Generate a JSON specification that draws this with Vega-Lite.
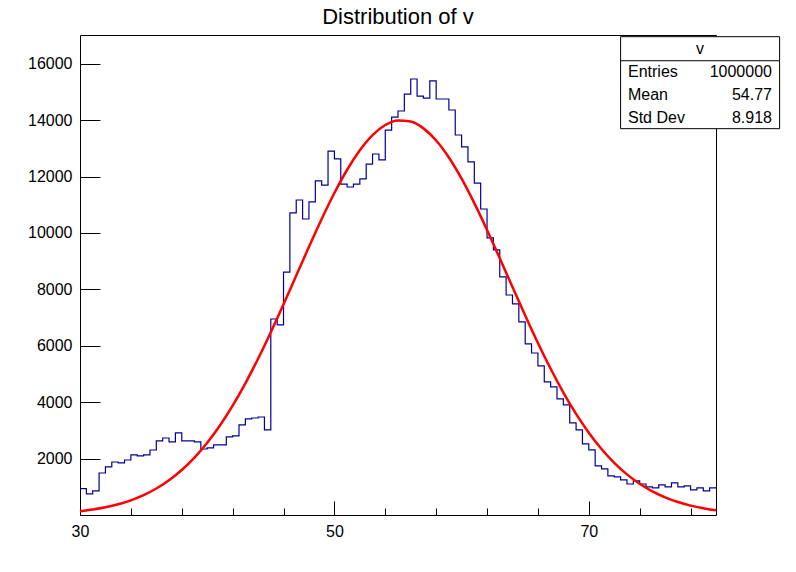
{
  "$schema": "https://vega.github.io/schema/vega-lite/v6.json",
  "width": 636,
  "height": 480,
  "autosize": "none",
  "padding": {"left": 80, "top": 35, "right": 80, "bottom": 57},
  "background": "white",
  "title": {"text": "Distribution of v", "fontSize": 22, "font": "Liberation Sans", "fontWeight": "normal", "anchor": "middle", "offset": 6, "color": "black"},
  "config": {"view": {"stroke": "black", "strokeWidth": 1}, "font": "Liberation Sans"},
  "datasets": {
    "hist": [
      {"v": 30.0, "n": 936}, {"v": 30.5, "n": 750}, {"v": 31.0, "n": 855}, {"v": 31.5, "n": 1490}, {"v": 32.0, "n": 1705},
      {"v": 32.5, "n": 1880}, {"v": 33.0, "n": 1845}, {"v": 33.5, "n": 1950}, {"v": 34.0, "n": 2130}, {"v": 34.5, "n": 2095},
      {"v": 35.0, "n": 2130}, {"v": 35.5, "n": 2305}, {"v": 36.0, "n": 2625}, {"v": 36.5, "n": 2730}, {"v": 37.0, "n": 2590},
      {"v": 37.5, "n": 2910}, {"v": 38.0, "n": 2625}, {"v": 38.5, "n": 2625}, {"v": 39.0, "n": 2590}, {"v": 39.5, "n": 2340},
      {"v": 40.0, "n": 2380}, {"v": 40.5, "n": 2485}, {"v": 41.0, "n": 2485}, {"v": 41.5, "n": 2770}, {"v": 42.0, "n": 2805},
      {"v": 42.5, "n": 3195}, {"v": 43.0, "n": 3405}, {"v": 43.5, "n": 3440}, {"v": 44.0, "n": 3475}, {"v": 44.5, "n": 3015},
      {"v": 45.0, "n": 6950}, {"v": 45.5, "n": 6740}, {"v": 46.0, "n": 8615}, {"v": 46.5, "n": 10710}, {"v": 47.0, "n": 11170},
      {"v": 47.5, "n": 10495}, {"v": 48.0, "n": 11100}, {"v": 48.5, "n": 11845}, {"v": 49.0, "n": 11700}, {"v": 49.5, "n": 12905},
      {"v": 50.0, "n": 12625}, {"v": 50.5, "n": 11735}, {"v": 51.0, "n": 11630}, {"v": 51.5, "n": 11735}, {"v": 52.0, "n": 11915},
      {"v": 52.5, "n": 12445}, {"v": 53.0, "n": 12800}, {"v": 53.5, "n": 12590}, {"v": 54.0, "n": 13650}, {"v": 54.5, "n": 14110},
      {"v": 55.0, "n": 14325}, {"v": 55.5, "n": 14925}, {"v": 56.0, "n": 15460}, {"v": 56.5, "n": 14855}, {"v": 57.0, "n": 14785},
      {"v": 57.5, "n": 15390}, {"v": 58.0, "n": 14750}, {"v": 58.5, "n": 14750}, {"v": 59.0, "n": 14360}, {"v": 59.5, "n": 13475},
      {"v": 60.0, "n": 13050}, {"v": 60.5, "n": 12520}, {"v": 61.0, "n": 11770}, {"v": 61.5, "n": 10850}, {"v": 62.0, "n": 9825},
      {"v": 62.5, "n": 9400}, {"v": 63.0, "n": 8440}, {"v": 63.5, "n": 7800}, {"v": 64.0, "n": 7485}, {"v": 64.5, "n": 6845},
      {"v": 65.0, "n": 6065}, {"v": 65.5, "n": 5745}, {"v": 66.0, "n": 5285}, {"v": 66.5, "n": 4720}, {"v": 67.0, "n": 4540},
      {"v": 67.5, "n": 4115}, {"v": 68.0, "n": 3905}, {"v": 68.5, "n": 3265}, {"v": 69.0, "n": 3015}, {"v": 69.5, "n": 2520},
      {"v": 70.0, "n": 2310}, {"v": 70.5, "n": 1740}, {"v": 71.0, "n": 1635}, {"v": 71.5, "n": 1385}, {"v": 72.0, "n": 1350},
      {"v": 72.5, "n": 1245}, {"v": 73.0, "n": 1100}, {"v": 73.5, "n": 1210}, {"v": 74.0, "n": 1100}, {"v": 74.5, "n": 995},
      {"v": 75.0, "n": 960}, {"v": 75.5, "n": 1065}, {"v": 76.0, "n": 995}, {"v": 76.5, "n": 1140}, {"v": 77.0, "n": 995},
      {"v": 77.5, "n": 1030}, {"v": 78.0, "n": 890}, {"v": 78.5, "n": 960}, {"v": 79.0, "n": 855}, {"v": 79.5, "n": 960},
      {"v": 80.0, "n": 960}
    ],
    "fit": [
      {"v": 30, "f": 135}, {"v": 31, "f": 193}, {"v": 32, "f": 272}, {"v": 33, "f": 379}, {"v": 34, "f": 521},
      {"v": 35, "f": 703}, {"v": 36, "f": 938}, {"v": 37, "f": 1232}, {"v": 38, "f": 1595}, {"v": 39, "f": 2035},
      {"v": 40, "f": 2561}, {"v": 41, "f": 3174}, {"v": 42, "f": 3878}, {"v": 43, "f": 4670}, {"v": 44, "f": 5541},
      {"v": 45, "f": 6482}, {"v": 46, "f": 7473}, {"v": 47, "f": 8491}, {"v": 48, "f": 9509}, {"v": 49, "f": 10496},
      {"v": 50, "f": 11417}, {"v": 51, "f": 12242}, {"v": 52, "f": 12933}, {"v": 53, "f": 13472}, {"v": 54, "f": 13829},
      {"v": 55, "f": 13991}, {"v": 56, "f": 13950}, {"v": 57, "f": 13709}, {"v": 58, "f": 13279}, {"v": 59, "f": 12677},
      {"v": 60, "f": 11927}, {"v": 61, "f": 11059}, {"v": 62, "f": 10108}, {"v": 63, "f": 9104}, {"v": 64, "f": 8084},
      {"v": 65, "f": 7073}, {"v": 66, "f": 6098}, {"v": 67, "f": 5184}, {"v": 68, "f": 4343}, {"v": 69, "f": 3587},
      {"v": 70, "f": 2919}, {"v": 71, "f": 2340}, {"v": 72, "f": 1850}, {"v": 73, "f": 1441}, {"v": 74, "f": 1106},
      {"v": 75, "f": 837}, {"v": 76, "f": 624}, {"v": 77, "f": 459}, {"v": 78, "f": 333}, {"v": 79, "f": 238},
      {"v": 80, "f": 167}
    ],
    "stats": [
      {"label": "Entries", "value": "1000000", "lx": 73.08, "rx": 84.4, "y": 15718},
      {"label": "Mean", "value": "54.77", "lx": 73.08, "rx": 84.4, "y": 14903},
      {"label": "Std Dev", "value": "8.918", "lx": 73.08, "rx": 84.4, "y": 14089}
    ],
    "box": [
      {"x1": 72.5, "x2": 85.0, "y1": 16960, "y2": 13698, "ydiv": 16108, "title": "v", "tx": 78.74, "ty": 16533}
    ]
  },
  "layer": [
    {
      "data": {"name": "hist"},
      "mark": {"type": "line", "interpolate": "step-after", "color": "#000099", "strokeWidth": 1.2},
      "encoding": {
        "x": {"field": "v", "type": "quantitative",
          "scale": {"domain": [30, 80], "nice": false, "zero": false},
          "axis": {"title": null, "grid": false, "domain": false, "labelOverlap": false,
            "values": [30,31,32,33,34,35,36,37,38,39,40,41,42,43,44,45,46,47,48,49,50,51,52,53,54,55,56,57,58,59,60,61,62,63,64,65,66,67,68,69,70,71,72,73,74,75,76,77,78,79,80],
            "labelExpr": "datum.value % 5 === 0 ? datum.label : ''",
            "tickSize": {"condition": {"test": "datum.value % 5 === 0", "value": -14}, "value": -7},
            "tickColor": "black", "labelColor": "black", "labelFontSize": 16, "labelPadding": 22, "labelFlush": false}},
        "y": {"field": "n", "type": "quantitative",
          "scale": {"domain": [0, 17020], "nice": false},
          "axis": {"title": null, "grid": false, "domain": false, "labelOverlap": false,
            "values": [0,500,1000,1500,2000,2500,3000,3500,4000,4500,5000,5500,6000,6500,7000,7500,8000,8500,9000,9500,10000,10500,11000,11500,12000,12500,13000,13500,14000,14500,15000,15500,16000,16500,17000],
            "labelExpr": "datum.value % 2000 === 0 && datum.value > 0 ? datum.value : ''",
            "tickSize": {"condition": {"test": "datum.value % 2000 === 0", "value": -20}, "value": -10},
            "tickColor": "black", "labelColor": "black", "labelFontSize": 16, "labelPadding": 28, "labelFlush": false}}
      }
    },
    {
      "data": {"name": "fit"},
      "mark": {"type": "line", "interpolate": "monotone", "color": "#ff0000", "strokeWidth": 2.5},
      "encoding": {
        "x": {"field": "v", "type": "quantitative"},
        "y": {"field": "f", "type": "quantitative"}
      }
    },
    {
      "data": {"name": "box"},
      "mark": {"type": "rect", "fill": "white", "stroke": "black", "strokeWidth": 1, "clip": false},
      "encoding": {
        "x": {"field": "x1", "type": "quantitative"},
        "x2": {"field": "x2"},
        "y": {"field": "y1", "type": "quantitative"},
        "y2": {"field": "y2"}
      }
    },
    {
      "data": {"name": "box"},
      "mark": {"type": "rule", "color": "black", "strokeWidth": 1, "clip": false},
      "encoding": {
        "x": {"field": "x1", "type": "quantitative"},
        "x2": {"field": "x2"},
        "y": {"field": "ydiv", "type": "quantitative"}
      }
    },
    {
      "data": {"name": "box"},
      "mark": {"type": "text", "fontSize": 16, "align": "center", "baseline": "middle", "color": "black", "clip": false},
      "encoding": {
        "x": {"field": "tx", "type": "quantitative"},
        "y": {"field": "ty", "type": "quantitative"},
        "text": {"field": "title"}
      }
    },
    {
      "data": {"name": "stats"},
      "mark": {"type": "text", "fontSize": 16, "align": "left", "baseline": "middle", "color": "black", "clip": false},
      "encoding": {
        "x": {"field": "lx", "type": "quantitative"},
        "y": {"field": "y", "type": "quantitative"},
        "text": {"field": "label"}
      }
    },
    {
      "data": {"name": "stats"},
      "mark": {"type": "text", "fontSize": 16, "align": "right", "baseline": "middle", "color": "black", "clip": false},
      "encoding": {
        "x": {"field": "rx", "type": "quantitative"},
        "y": {"field": "y", "type": "quantitative"},
        "text": {"field": "value"}
      }
    }
  ]
}
